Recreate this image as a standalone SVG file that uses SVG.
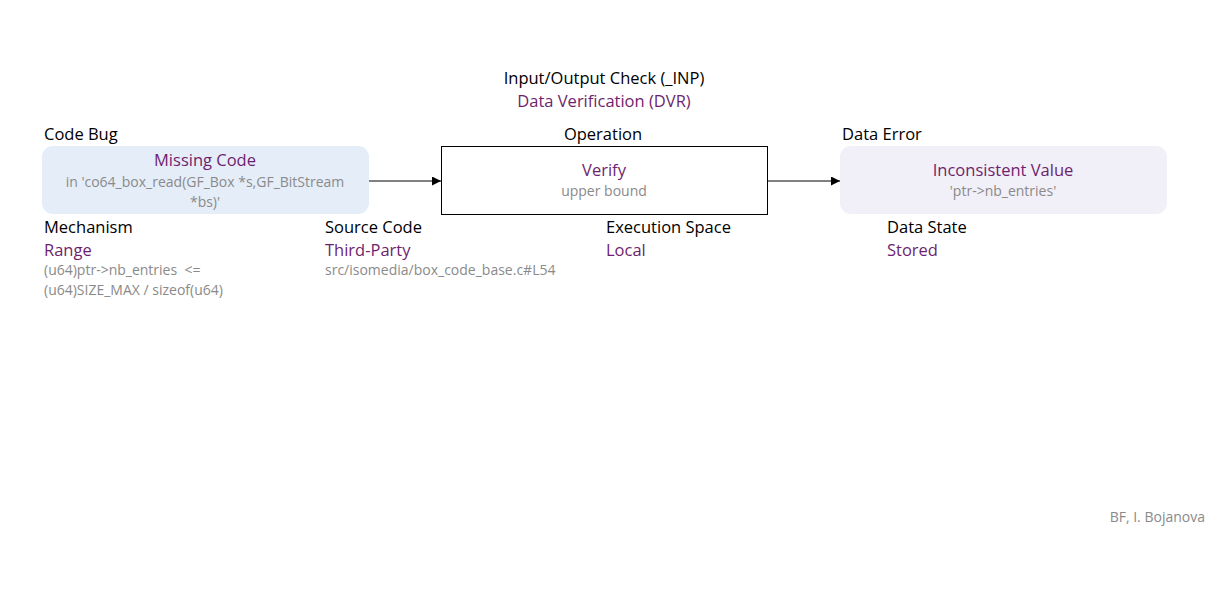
<svg xmlns="http://www.w3.org/2000/svg" width="1207" height="591" viewBox="0 0 1207 591">
<defs>
<style>
text{font-family:"Open Sans","Noto Sans","Liberation Sans",sans-serif;white-space:pre}
.t{font-size:16.5px;fill:#000}
.p{font-size:16.5px;fill:#6e1f6e}
.g{font-size:14px;fill:#8a8a8a}
.m{text-anchor:middle}
.conn{stroke:#000;stroke-width:1;fill:none;marker-end:url(#ah)}
</style>
<marker id="ah" viewBox="0 0 10 10" refX="10" refY="5" markerWidth="9" markerHeight="9" markerUnits="userSpaceOnUse" orient="auto">
<path d="M0,0 L10,5 L0,10 z" fill="#000"/>
</marker>
</defs>
<rect width="1207" height="591" fill="#fff"/>
<g id="header">
<text class="t m" x="604" y="84">Input/Output Check (_INP)</text>
<text class="p m" x="604" y="107">Data Verification (DVR)</text>
</g>
<g id="connectors">
<line class="conn" x1="369" y1="181" x2="441" y2="181"/>
<line class="conn" x1="767" y1="181" x2="840" y2="181"/>
</g>
<g id="node-codebug">
<text class="t" x="44" y="140">Code Bug</text>
<rect x="42" y="146" width="327" height="68" rx="11" fill="#e5edf9"/>
<text class="p m" x="205" y="166">Missing Code</text>
<text class="g m" x="205" y="187">in 'co64_box_read(GF_Box *s,GF_BitStream</text>
<text class="g m" x="205" y="207">*bs)'</text>
</g>
<g id="node-operation">
<text class="t m" x="603" y="140">Operation</text>
<rect x="441.5" y="146.5" width="326" height="68" fill="#fff" stroke="#000" stroke-width="1"/>
<text class="p m" x="604" y="176">Verify</text>
<text class="g m" x="604" y="196">upper bound</text>
</g>
<g id="node-dataerror">
<text class="t" x="842" y="140">Data Error</text>
<rect x="840" y="146" width="327" height="68" rx="11" fill="#f1eff7"/>
<text class="p m" x="1003" y="176">Inconsistent Value</text>
<text class="g m" x="1003" y="196">'ptr-&gt;nb_entries'</text>
</g>
<g id="attr-mechanism">
<text class="t" x="44" y="233">Mechanism</text>
<text class="p" x="44" y="256">Range</text>
<text class="g" x="44" y="275">(u64)ptr-&gt;nb_entries  &lt;=</text>
<text class="g" x="44" y="295">(u64)SIZE_MAX / sizeof(u64)</text>
</g>
<g id="attr-source">
<text class="t" x="325" y="233">Source Code</text>
<text class="p" x="325" y="256">Third-Party</text>
<text class="g" x="325" y="275">src/isomedia/box_code_base.c#L54</text>
</g>
<g id="attr-exec">
<text class="t" x="606" y="233">Execution Space</text>
<text class="p" x="606" y="256">Local</text>
</g>
<g id="attr-state">
<text class="t" x="887" y="233">Data State</text>
<text class="p" x="887" y="256">Stored</text>
</g>
<text class="g" x="1205" y="522" text-anchor="end">BF, I. Bojanova</text>
</svg>
